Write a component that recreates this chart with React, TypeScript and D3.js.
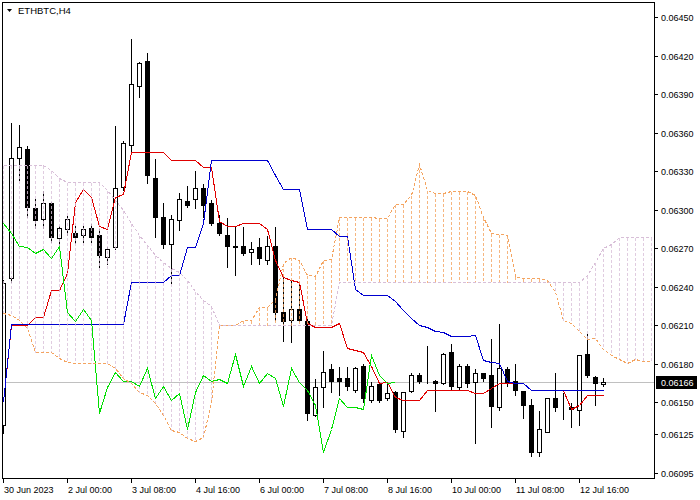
import React from "react";
import * as d3 from "d3";

const symbolTitle = "ETHBTC,H4";
const timeLabels = ["30 Jun 2023", "2 Jul 00:00", "3 Jul 08:00", "4 Jul 16:00", "6 Jul 00:00", "7 Jul 08:00", "8 Jul 16:00", "10 Jul 00:00", "11 Jul 08:00", "12 Jul 16:00"];
const timeLabelBars = [0, 8, 16, 24, 32, 40, 48, 56, 64, 72];
const priceTicks = [0.0645, 0.0642, 0.0639, 0.0636, 0.0633, 0.063, 0.0627, 0.0624, 0.0621, 0.0618, 0.0615, 0.06125, 0.06095];
const lastPrice = 0.06166;

const open = [0.06132,0.06247,0.06340,0.06347,0.06301,0.06293,0.06305,0.06278,0.06285,0.06282,
0.06280,0.06286,0.06280,0.06263,0.06271,0.06318,0.06350,0.06396,0.06416,0.06325,
0.06294,0.06273,0.06292,0.06307,0.06308,0.06317,0.06305,0.06290,0.06280,0.06272,
0.06272,0.06267,0.06271,0.06261,0.06272,0.06220,0.06214,0.06223,0.06213,0.06140,
0.06162,0.06176,0.06169,0.06169,0.06160,0.06178,0.06152,0.06164,0.06153,0.06158,
0.06128,0.06159,0.06171,0.06168,0.06167,0.06165,0.06189,0.06162,0.06178,0.06166,
0.06173,0.06171,0.06146,0.06176,0.06167,0.06159,0.06148,0.06111,0.06127,0.06153,
0.06146,0.06146,0.06144,0.06188,0.06170,0.06164];
const high = [0.06246,0.06368,0.06367,0.06350,0.06309,0.06315,0.06307,0.06288,0.06296,0.06288,
0.06288,0.06290,0.06286,0.06272,0.06366,0.06354,0.06434,0.06416,0.06423,0.06340,
0.06306,0.06297,0.06314,0.06319,0.06331,0.06321,0.06308,0.06297,0.06294,0.06288,
0.06287,0.06276,0.06279,0.06280,0.06287,0.06248,0.06245,0.06243,0.06216,0.06169,
0.06191,0.06181,0.06178,0.06178,0.06178,0.06181,0.06167,0.06167,0.06165,0.06160,
0.06158,0.06174,0.06174,0.06195,0.06168,0.06189,0.06196,0.06181,0.06181,0.06177,
0.06174,0.06200,0.06212,0.06178,0.06181,0.06160,0.06153,0.06144,0.06153,0.06174,
0.06158,0.06150,0.06187,0.06204,0.06171,0.06170];
const low = [0.06126,0.06244,0.06323,0.06294,0.06286,0.06286,0.06275,0.06272,0.06280,0.06274,
0.06275,0.06275,0.06255,0.06258,0.06269,0.06315,0.06346,0.06388,0.06321,0.06279,
0.06270,0.06243,0.06284,0.06302,0.06301,0.06294,0.06288,0.06280,0.06255,0.06249,
0.06265,0.06258,0.06258,0.06258,0.06214,0.06198,0.06197,0.06213,0.06136,0.06139,
0.06146,0.06158,0.06156,0.06160,0.06158,0.06150,0.06150,0.06150,0.06152,0.06127,
0.06123,0.06158,0.06165,0.06165,0.06143,0.06164,0.06160,0.06160,0.06162,0.06118,
0.06167,0.06131,0.06144,0.06163,0.06156,0.06138,0.06108,0.06108,0.06127,0.06143,
0.06137,0.06131,0.06132,0.06170,0.06148,0.06163];
const close = [0.06243,0.06340,0.06349,0.06302,0.06292,0.06305,0.06279,0.06286,0.06293,0.06279,
0.06285,0.06279,0.06265,0.06269,0.06317,0.06352,0.06398,0.06414,0.06327,0.06294,
0.06273,0.06293,0.06308,0.06304,0.06317,0.06304,0.06290,0.06282,0.06272,0.06271,
0.06266,0.06269,0.06262,0.06272,0.06220,0.06213,0.06223,0.06214,0.06142,0.06162,
0.06174,0.06167,0.06167,0.06163,0.06177,0.06153,0.06163,0.06152,0.06157,0.06129,
0.06158,0.06171,0.06167,0.06168,0.06165,0.06188,0.06163,0.06178,0.06165,0.06173,
0.06169,0.06147,0.06177,0.06166,0.06160,0.06148,0.06111,0.06129,0.06153,0.06146,
0.06146,0.06145,0.06187,0.06171,0.06165,0.06166];

const tenkan = [0.06150,0.06210,0.06210,0.06210,0.062165,0.062165,0.062375,0.062375,0.062505,0.06306,
0.06316,0.06310,0.06287,0.06285,0.06310,0.06312,0.06345,0.06345,0.06345,0.06345,
0.06345,0.063385,0.063385,0.063385,0.063385,0.06333,0.06333,0.062915,0.06287,0.06287,
0.06290,0.06290,0.06290,0.06285,0.06261,0.062475,0.062455,0.06244,0.062115,0.06209,
0.06209,0.06209,0.062115,0.06192,0.061905,0.061895,0.06178,0.06165,0.06166,0.06154,
0.061515,0.06152,0.06152,0.061595,0.061595,0.061595,0.061595,0.061595,0.061595,0.06157,
0.06157,0.06161,0.06165,0.06165,0.06165,0.06165,0.06160,0.06160,0.06160,0.06160,
0.06160,0.061445,0.06148,0.06156,0.06156,0.06156];
const kijun = [0.06150,0.06211,0.06211,0.06211,0.06211,0.06211,0.06211,0.06211,0.06211,0.06211,
0.06211,0.06211,0.06211,0.06211,0.06211,0.06211,0.06244,0.06244,0.06244,0.06244,
0.06244,0.06249,0.06249,0.06271,0.06271,0.062895,0.063385,0.063385,0.063385,0.063385,
0.063385,0.063385,0.063385,0.063385,0.06327,0.06316,0.06316,0.06316,0.06285,0.06285,
0.06285,0.06285,0.062795,0.062795,0.06238,0.062335,0.062335,0.062335,0.062335,0.06229,
0.06222,0.062155,0.06210,0.062085,0.062055,0.06205,0.06202,0.06202,0.06202,0.062025,
0.06183,0.061815,0.061805,0.06167,0.06165,0.06165,0.06160,0.06160,0.06160,0.06160,
0.06160,0.06160,0.06160,0.06160,0.06160,0.06160];
const spanA = [0.062195,0.06218,0.06214,0.06208,0.06189,0.06189,0.06189,0.061845,0.061815,0.061805,
0.061805,0.061805,0.061805,0.061805,0.061765,0.06169,0.06165,0.06158,0.061555,0.061495,
0.06140,0.061285,0.06127,0.061225,0.06120,0.06123,0.06150,0.062105,0.062105,0.062105,
0.0621375,0.0621375,0.0622425,0.0622425,0.0623075,0.062585,0.062635,0.062605,0.06249,0.06248,
0.062605,0.062615,0.062945,0.062945,0.062945,0.062945,0.062945,0.0629375,0.0629375,0.0630475,
0.0630475,0.0631125,0.0633575,0.06315,0.0631275,0.0631275,0.0631425,0.0631425,0.0631425,0.0631175,
0.06294,0.0628175,0.0628075,0.06280,0.0624825,0.06247,0.06247,0.06247,0.062455,0.0623575,
0.0621425,0.062115,0.0620575,0.0619925,0.0619975,0.061915,0.0618675,0.0618375,0.06181,0.06184,
0.061825,0.0618225];
const spanB = [0.06335,0.06335,0.06335,0.06335,0.06335,0.06335,0.06331,0.06325,0.063215,0.063215,
0.063215,0.063215,0.063215,0.063155,0.063075,0.06300,0.06290,0.06280,0.062725,0.062645,
0.06259,0.062545,0.062515,0.06245,0.06237,0.06230,0.06225,0.062105,0.062105,0.062105,
0.062105,0.062105,0.062105,0.062105,0.062105,0.062105,0.062105,0.062105,0.062105,0.062105,
0.062105,0.062105,0.062435,0.062435,0.062435,0.062435,0.062435,0.062435,0.062435,0.062435,
0.062435,0.062435,0.062435,0.062435,0.062435,0.062435,0.062435,0.062435,0.062435,0.062435,
0.062435,0.062435,0.062435,0.062435,0.062435,0.062435,0.062435,0.062435,0.062435,0.062435,
0.062435,0.062435,0.062435,0.06249,0.06259,0.06270,0.06273,0.062785,0.062785,0.062785,
0.062785,0.062785];

const CHIKOU_SHIFT = 26;
const FONT = "'Liberation Sans', Arial, sans-serif";
const SANDY = "#F4A460";
const THISTLE = "#D8BFD8";

export default function App() {
  const W = 700, H = 500;
  const x = d3.scaleLinear().domain([0, 1]).range([3.5, 11.5]);
  const y = d3.scaleLinear().domain([0.06095, 0.0645]).range([473, 17]);
  const sy = (v: number) => Math.round(y(v)) + 0.5;
  const chikou = close.slice(CHIKOU_SHIFT);
  const mkLine = (arr: number[]) =>
    d3.line<number>().x((_, i) => x(i)).y((v) => sy(v))(arr) || "";

  return (
    <>
      <style>{`body{margin:0;background:#fff}`}</style>
      <svg width={W} height={H} style={{ display: "block", background: "#fff" }} fontFamily={FONT}>
        <defs>
          <clipPath id="plot">
            <rect x={3} y={3} width={651} height={475} />
          </clipPath>
        </defs>
        <g clipPath="url(#plot)" shapeRendering="crispEdges">
          <line x1={3} x2={654} y1={sy(lastPrice)} y2={sy(lastPrice)} stroke="#C0C0C0" strokeWidth={1} />
          {close.map((c, i) => {
            const o = open[i];
            const cx = x(i);
            const t = sy(Math.max(o, c));
            const b = sy(Math.min(o, c));
            return (
              <g key={"c" + i}>
                <line x1={cx} x2={cx} y1={sy(high[i])} y2={sy(low[i])} stroke="#000" />
                <rect x={cx - 2} y={t} width={4} height={Math.max(0, b - t)} fill={c >= o ? "#fff" : "#000"} stroke="#000" />
              </g>
            );
          })}
          <path d={mkLine(tenkan)} fill="none" stroke="#E00000" strokeWidth={1} />
          <path d={mkLine(kijun)} fill="none" stroke="#0000D0" strokeWidth={1} />
          {spanA.map((a, i) => {
            const b = spanB[i];
            if (Math.abs(sy(a) - sy(b)) < 1) return null;
            return (
              <line key={"h" + i} x1={x(i)} x2={x(i)} y1={sy(Math.max(a, b))} y2={sy(Math.min(a, b))}
                stroke={a >= b ? SANDY : THISTLE} strokeOpacity={0.8} strokeDasharray="3 2" />
            );
          })}
          <path d={mkLine(chikou)} fill="none" stroke="#00E000" strokeWidth={1} />
          <path d={mkLine(spanA)} fill="none" stroke={SANDY} strokeDasharray="3 2" />
          <path d={mkLine(spanB)} fill="none" stroke={THISTLE} strokeDasharray="3 2" />
        </g>
        <rect x={2.5} y={2.5} width={652} height={476} fill="none" stroke="#000" shapeRendering="crispEdges" />
        {priceTicks.map((t) => (
          <g key={"p" + t}>
            <line x1={655} x2={658} y1={sy(t)} y2={sy(t)} stroke="#000" shapeRendering="crispEdges" />
            <text x={661} y={sy(t)} dy="0.35em" fontSize={9} fill="#000">{t.toFixed(5)}</text>
          </g>
        ))}
        <rect x={656} y={sy(lastPrice) - 6.5} width={41} height={13} fill="#000" />
        <text x={661} y={sy(lastPrice)} dy="0.35em" fontSize={9} fill="#fff">{lastPrice.toFixed(5)}</text>
        {timeLabelBars.map((b, i) => (
          <g key={"t" + b}>
            <line x1={x(b)} x2={x(b)} y1={479} y2={483} stroke="#000" shapeRendering="crispEdges" />
            <text x={x(b) + 0.5} y={493} fontSize={9} fill="#000">{timeLabels[i]}</text>
          </g>
        ))}
        <polygon points="7,9 12,9 9.5,12" fill="#000" />
        <text x={18} y={14} fontSize={9.5} fill="#000">{symbolTitle}</text>
      </svg>
    </>
  );
}
